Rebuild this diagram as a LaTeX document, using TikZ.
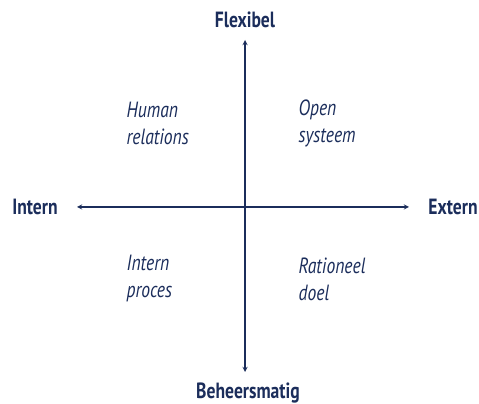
\documentclass[tikz,border=0pt]{standalone}
\usepackage{fontspec}
\setmainfont{PT Sans}[FakeStretch=0.8]
\usepackage{tikz}
\usetikzlibrary{arrows, positioning}
\definecolor{navy}{HTML}{1B2D5B}
\tikzset{>=stealth}

\begin{document}
\begin{tikzpicture}[>=stealth, x=1pt, y=1pt, line width=1.3pt, color=navy,
		axislabel/.style={font=\fontsize{22}{24}\selectfont\bfseries},
		quadlabel/.style={font=\fontsize{22}{27}\selectfont\itshape, align=left, anchor=west, inner sep=0pt}]
		\useasboundingbox (0,0) rectangle (479,404);
		\coordinate (O) at (245,197);
		\coordinate (T) at (245,364);  \coordinate (B) at (245,32);
		\coordinate (L) at (77,197);   \coordinate (R) at (409,197);
		\draw [<->](L) -- (R); \draw [<->](B) -- (T);
		\node[axislabel] (flex) at (245,384) {Flexibel};
		\node[axislabel] (beh) at (248,11) {Beheersmatig};
		\node[axislabel] (int) at (35,197) {Intern};
		\node[axislabel] (ext) at (453,197) {Extern};
		\node[quadlabel] (hr) at (126,281) {Human\\relations};
		\node[quadlabel] (os) at (298,281) {Open\\systeem};
		\node[quadlabel] (ip) at (126,125) {Intern\\proces};
		\node[quadlabel] (rd) at (298,125) {Rationeel\\doel};
		\end{tikzpicture}
\end{document}
